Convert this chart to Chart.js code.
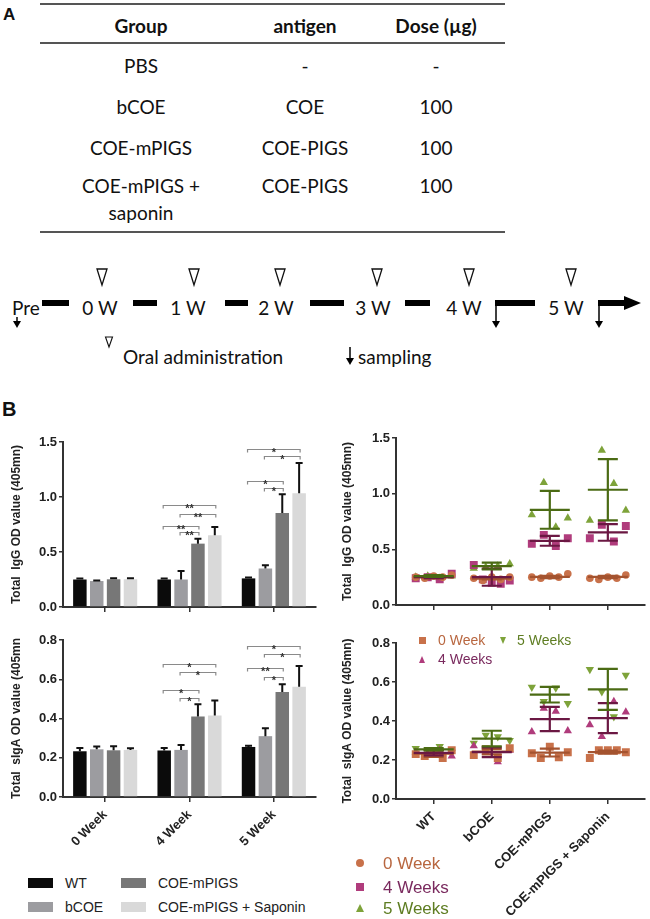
<!DOCTYPE html>
<html><head><meta charset="utf-8">
<script src="https://cdn.jsdelivr.net/npm/chart.js@4.4.1/dist/chart.umd.min.js"></script>
<style>
body{margin:0;background:#fff;}
#page{position:relative;width:650px;height:919px;overflow:hidden;background:#fff;font-family:Lato,'Open Sans',sans-serif;}
canvas{position:absolute;}
.tc{position:absolute;transform:translate(-50%,-50%);white-space:nowrap;font-size:19px;color:#111;line-height:1;}
.tl{position:absolute;transform:translateY(-50%);white-space:nowrap;line-height:1;}
.hl{position:absolute;height:1.5px;background:#555;}
.lab{position:absolute;font-family:'Liberation Sans',Arial,sans-serif;font-weight:bold;color:#111;}
</style></head>
<body><div id="page">
<div class="lab" style="left:3px;top:5px;font-size:17px;">A</div>
<div class="lab" style="left:2px;top:398px;font-size:20px;">B</div>
<div class="hl" style="left:40px;top:3px;width:465px;"></div>
<div class="hl" style="left:40px;top:42px;width:465px;"></div>
<div class="hl" style="left:40px;top:231px;width:465px;"></div>
<svg id="tl" style="position:absolute;left:0;top:0" width="650" height="919"></svg>
<canvas id="c1"></canvas>
<canvas id="c2"></canvas>
<canvas id="c3"></canvas>
<canvas id="c4"></canvas>
</div>
<script>
// ---------- Table (panel A) ----------
const tableHeader = ['Group', 'antigen', 'Dose (\u00b5g)'];
const tableRows = [
  ['PBS', '-', '-'],
  ['bCOE', 'COE', '100'],
  ['COE-mPIGS', 'COE-PIGS', '100'],
  ['COE-mPIGS +\nsaponin', 'COE-PIGS', '100']
];
// ---------- Timeline ----------
const timeLabels = ['Pre', '0 W', '1 W', '2 W', '3 W', '4 W', '5 W'];
const legendOral = 'Oral administration';
const legendSampling = 'sampling';

// ---------- Panel B data ----------
const weekLabels = ['0 Week', '4 Week', '5 Week'];
const groupLabels = ['WT', 'bCOE', 'COE-mPIGS', 'COE-mPIGS + Saponin'];

// Total IgG, mean per group over weeks (0, 4, 5)
const iggWT    = [0.250, 0.250, 0.260];
const iggBCOE  = [0.236, 0.250, 0.350];
const iggMPIGS = [0.252, 0.576, 0.855];
const iggSAP   = [0.252, 0.652, 1.035];
const iggErrWT    = [0.010, 0.008, 0.008];
const iggErrBCOE  = [0.006, 0.077, 0.030];
const iggErrMPIGS = [0.010, 0.044, 0.170];
const iggErrSAP   = [0.010, 0.075, 0.275];

// Total sIgA
const sigaWT    = [0.233, 0.237, 0.255];
const sigaBCOE  = [0.243, 0.240, 0.310];
const sigaMPIGS = [0.238, 0.410, 0.535];
const sigaSAP   = [0.240, 0.415, 0.562];
const sigaErrWT    = [0.017, 0.013, 0.006];
const sigaErrBCOE  = [0.014, 0.025, 0.040];
const sigaErrMPIGS = [0.020, 0.062, 0.040];
const sigaErrSAP   = [0.008, 0.077, 0.105];

// significance brackets: [week index, from group, to group, height, label]
const iggBrackets = [
  [1, 0, 3, 0.925, '**'], [1, 1, 3, 0.85, '**'], [1, 0, 2, 0.74, '**'], [1, 1, 2, 0.68, '**'],
  [2, 0, 3, 1.44, '*'], [2, 1, 3, 1.37, '*'], [2, 0, 2, 1.15, '*'], [2, 1, 2, 1.085, '*']
];
const sigaBrackets = [
  [1, 0, 3, 0.68, '*'], [1, 1, 3, 0.635, '*'], [1, 0, 2, 0.545, '*'], [1, 1, 2, 0.503, '*'],
  [2, 0, 3, 0.77, '*'], [2, 1, 3, 0.73, '*'], [2, 0, 2, 0.655, '**'], [2, 1, 2, 0.613, '*']
];

// Individual points (per group: WT, bCOE, COE-mPIGS, +Saponin)
const iggPts0 = [[0.25, 0.24, 0.26, 0.25, 0.27], [0.24, 0.22, 0.25, 0.23, 0.25], [0.25, 0.24, 0.26, 0.25, 0.28], [0.24, 0.23, 0.25, 0.24, 0.27]];
const iggPts4 = [[0.24, 0.25, 0.23, 0.28], [0.36, 0.23, 0.20, 0.19, 0.22], [0.55, 0.63, 0.53, 0.60], [0.60, 0.72, 0.57, 0.71]];
const iggPts5 = [[0.25, 0.26, 0.24, 0.26], [0.33, 0.34, 0.35, 0.37], [0.81, 1.10, 0.70, 0.78], [0.76, 1.39, 1.09, 0.85]];
const sigaPts0 = [[0.23, 0.22, 0.24, 0.21, 0.25], [0.225, 0.255, 0.21, 0.26], [0.235, 0.21, 0.268, 0.214, 0.24], [0.21, 0.25, 0.25, 0.25, 0.24]];
const sigaPts4 = [[0.24, 0.23, 0.25, 0.22], [0.272, 0.24, 0.19, 0.25], [0.345, 0.465, 0.45, 0.35], [0.38, 0.32, 0.50, 0.446]];
const sigaPts5 = [[0.26, 0.25, 0.27, 0.24], [0.287, 0.328, 0.32, 0.30], [0.573, 0.5, 0.57, 0.49], [0.665, 0.55, 0.422, 0.635]];

const barColors = ['#0b0b0b', '#9c9ca0', '#777777', '#d9d9d9'];
const weekColors = ['#c8714a', '#b03c7c', '#7ea33a'];
const weekLineColors = ['#a4532f', '#6b1843', '#4b6b14'];
const weekTextColors = ['#b8663f', '#7a2a5e', '#5e7d22'];
const scatterLegendLabels = ['0 Week', '4 Weeks', '5 Weeks'];

const page = document.getElementById('page');
function addDiv(cls, txt, style) {
  const d = document.createElement('div'); d.className = cls; d.textContent = txt;
  Object.assign(d.style, style); page.appendChild(d); return d;
}
// Table
const colX = [141, 305, 436];
tableHeader.forEach((h, i) => addDiv('tc', h, {left: colX[i] + 'px', top: '25px', fontWeight: 'bold'}));
const rowY = [65, 106, 147, 185];
tableRows.forEach((r, ri) => r.forEach((c, ci) => {
  const parts = c.split('\n');
  parts.forEach((p, k) => addDiv('tc', p, {left: colX[ci] + 'px', top: (rowY[ri] + k * 27) + 'px'}));
}));

// Timeline (SVG)
const svg = document.getElementById('tl');
const NS = 'http://www.w3.org/2000/svg';
function sv(tag, attrs, txt) { const e = document.createElementNS(NS, tag); for (const k in attrs) e.setAttribute(k, attrs[k]); if (txt) e.textContent = txt; svg.appendChild(e); return e; }
const labX = [26, 100, 188, 276, 373, 464, 566];
timeLabels.forEach((t, i) => sv('text', {x: labX[i], y: 315, 'text-anchor': 'middle', 'font-family': 'Lato', 'font-size': 19, fill: '#111'}, t));
const triX = [102, 194, 280, 377, 469, 571];
triX.forEach(x => sv('path', {d: `M${x - 5} 269 L${x + 5} 269 L${x} 285 Z`, fill: '#fff', stroke: '#111', 'stroke-width': 1.3}));
[[42, 69], [133, 157], [225, 248], [310, 344], [405, 430], [495, 535], [598, 626]].forEach(([a, b]) => sv('rect', {x: a, y: 300, width: b - a, height: 6, fill: '#000'}));
sv('path', {d: 'M624 296 L641 303 L624 310 Z', fill: '#000'});
function downArrow(x, y1, y2) {
  sv('line', {x1: x, y1: y1, x2: x, y2: y2 - 5, stroke: '#000', 'stroke-width': 1.5});
  sv('path', {d: `M${x - 4} ${y2 - 7} L${x + 4} ${y2 - 7} L${x} ${y2} Z`, fill: '#000'});
}
downArrow(17, 317, 328); downArrow(496, 303, 328); downArrow(599, 303, 328);
sv('path', {d: 'M105.5 337 L112.5 337 L109 347 Z', fill: '#fff', stroke: '#111', 'stroke-width': 1.1});
sv('text', {x: 123, y: 364, 'font-family': 'Lato', 'font-size': 19, fill: '#111'}, legendOral);
downArrow(350, 347, 365);
sv('text', {x: 358, y: 364, 'font-family': 'Lato', 'font-size': 19, fill: '#111'}, legendSampling);

// Bar legend (bottom left)
const legPos = [[28, 883], [28, 907], [121, 883], [121, 907]];
groupLabels.forEach((g, i) => {
  const [x, y] = legPos[i];
  const s = document.createElement('div');
  Object.assign(s.style, {position: 'absolute', left: x + 'px', top: (y - 5) + 'px', width: '25px', height: '10px', background: barColors[i]});
  page.appendChild(s);
  addDiv('tl', g, {left: (x + 37) + 'px', top: y + 'px', fontFamily: 'Liberation Sans, Arial, sans-serif', fontSize: '14px', color: '#222'});
});
// Scatter legend (bottom middle)
function marker(kind, cx, cy, size, color) {
  const d = document.createElement('div'); d.style.position = 'absolute';
  if (kind === 'circle' || kind === 'square') {
    Object.assign(d.style, {left: (cx - size / 2) + 'px', top: (cy - size / 2) + 'px', width: size + 'px', height: size + 'px', background: color, borderRadius: kind === 'circle' ? '50%' : '0'});
  } else {
    const h = size;
    Object.assign(d.style, {left: (cx - size / 2) + 'px', top: (cy - h / 2) + 'px', width: 0, height: 0,
      borderLeft: (size / 2) + 'px solid transparent', borderRight: (size / 2) + 'px solid transparent'});
    if (kind === 'up') d.style.borderBottom = h + 'px solid ' + color; else d.style.borderTop = h + 'px solid ' + color;
  }
  page.appendChild(d);
}
const legY = [863, 887, 908];
const legKinds = ['circle', 'square', 'up'];
scatterLegendLabels.forEach((l, i) => {
  marker(legKinds[i], 360, legY[i], 8, weekColors[i]);
  addDiv('tl', l, {left: '383px', top: legY[i] + 'px', fontFamily: 'Liberation Sans, Arial, sans-serif', fontSize: '17px', color: weekTextColors[i]});
});
// inner legend of sIgA scatter
marker('square', 422, 640, 7, weekColors[0]);
addDiv('tl', '0 Week', {left: '438px', top: '640px', fontFamily: 'Liberation Sans, Arial, sans-serif', fontSize: '14px', color: weekTextColors[0]});
marker('down', 503, 640, 7, weekColors[2]);
addDiv('tl', '5 Weeks', {left: '517px', top: '640px', fontFamily: 'Liberation Sans, Arial, sans-serif', fontSize: '14px', color: weekTextColors[2]});
marker('up', 422, 659, 7, weekColors[1]);
addDiv('tl', '4 Weeks', {left: '438px', top: '659px', fontFamily: 'Liberation Sans, Arial, sans-serif', fontSize: '14px', color: weekTextColors[1]});

// ---------- Charts ----------
Chart.defaults.font.family = "'Liberation Sans', Arial, sans-serif";
Chart.defaults.color = '#222';
const AX = '#333';

function place(id, box, plot) {
  const c = document.getElementById(id);
  c.width = box.w; c.height = box.h;
  c.style.left = box.x + 'px'; c.style.top = box.y + 'px';
  return {
    ctx: c,
    padding: {left: 0, top: plot.t - box.y, right: box.x + box.w - plot.r, bottom: 0},
    yW: plot.l - box.x, xH: box.y + box.h - plot.b
  };
}

const barExtras = {
  id: 'barExtras',
  afterDatasetsDraw(chart, args, opts) {
    const ctx = chart.ctx, y = chart.scales.y;
    ctx.save();
    chart.data.datasets.forEach((ds, i) => {
      const meta = chart.getDatasetMeta(i);
      meta.data.forEach((el, j) => {
        const yt = y.getPixelForValue(ds.data[j] + opts.errs[i][j]);
        ctx.strokeStyle = '#111'; ctx.lineWidth = 2;
        ctx.beginPath(); ctx.moveTo(el.x, el.y); ctx.lineTo(el.x, yt);
        ctx.moveTo(el.x - 3.5, yt); ctx.lineTo(el.x + 3.5, yt); ctx.stroke();
      });
    });
    opts.brackets.forEach(([w, a, b, val, lab]) => {
      const xa = chart.getDatasetMeta(a).data[w].x - 1, xb = chart.getDatasetMeta(b).data[w].x + 1;
      const yy = Math.round(y.getPixelForValue(val)) + 0.5;
      ctx.strokeStyle = '#8a8a8a'; ctx.lineWidth = 1.2;
      ctx.beginPath(); ctx.moveTo(xa, yy + 3); ctx.lineTo(xa, yy); ctx.lineTo(xb, yy); ctx.lineTo(xb, yy + 3); ctx.stroke();
      ctx.fillStyle = '#333'; ctx.font = "bold 11px 'Liberation Sans', Arial"; ctx.textAlign = 'center'; ctx.textBaseline = 'alphabetic';
      ctx.fillText(lab, (xa + xb) / 2, yy + 6);
    });
    ctx.restore();
  }
};

function barChart(id, box, plot, series, errs, brackets, yMax, yStep, title, showX) {
  const p = place(id, box, plot);
  return new Chart(p.ctx, {
    type: 'bar',
    data: {
      labels: weekLabels,
      datasets: series.map((d, i) => ({label: groupLabels[i], data: d, backgroundColor: barColors[i], borderWidth: 0,
        barPercentage: 0.8, categoryPercentage: 0.8}))
    },
    options: {
      responsive: false, animation: false, devicePixelRatio: 1,
      layout: {padding: p.padding},
      plugins: {legend: {display: false}, tooltip: {enabled: false}, barExtras: {errs, brackets}},
      scales: {
        x: {
          grid: {display: true, drawOnChartArea: false, offset: false, tickLength: 5, color: AX, lineWidth: 1.5},
          border: {display: true, color: AX, width: 2},
          ticks: {display: showX, autoSkip: false, minRotation: 45, maxRotation: 45, padding: 5,
            font: {size: 13, weight: 'bold'}, color: '#222'},
          afterFit: s => { s.height = p.xH; }
        },
        y: {
          min: 0, max: yMax,
          grid: {display: true, drawOnChartArea: false, tickLength: 4, color: AX, lineWidth: 1.5},
          border: {display: true, color: AX, width: 2},
          ticks: {stepSize: yStep, padding: 2, font: {size: 13, weight: 'bold'}, color: '#222', callback: v => v.toFixed(1)},
          title: {display: true, text: title, font: {size: 12, weight: 'bold'}, color: '#222', padding: {top: 9, bottom: 0}},
          afterFit: s => { s.width = p.yW; }
        }
      }
    },
    plugins: [barExtras]
  });
}

const scatterExtras = {
  id: 'scatterExtras',
  afterDatasetsDraw(chart, args, opts) {
    const ctx = chart.ctx, x = chart.scales.x, y = chart.scales.y;
    ctx.save();
    ctx.lineWidth = 2.2;
    opts.means.forEach((wk, w) => {
      ctx.strokeStyle = weekLineColors[w];
      wk.forEach((m, g) => {
        const sd = opts.sds[w][g];
        const cx = x.getPixelForValue(g), ym = y.getPixelForValue(m);
        const yh = y.getPixelForValue(m + sd), yl = y.getPixelForValue(m - sd);
        ctx.beginPath();
        ctx.moveTo(cx - 20, ym); ctx.lineTo(cx + 20, ym);
        ctx.moveTo(cx, yh); ctx.lineTo(cx, yl);
        ctx.moveTo(cx - 10, yh); ctx.lineTo(cx + 10, yh);
        ctx.moveTo(cx - 10, yl); ctx.lineTo(cx + 10, yl);
        ctx.stroke();
      });
    });
    ctx.restore();
  }
};

function spread(ptsByGroup) {
  const out = [];
  ptsByGroup.forEach((vals, g) => {
    const n = vals.length;
    vals.forEach((v, i) => out.push({x: g + (n > 1 ? (i / (n - 1) - 0.5) * 0.62 : 0), y: v}));
  });
  return out;
}

function scatterChart(id, box, plot, ptSets, styles, means, sds, yMax, yStep, title, showX) {
  const p = place(id, box, plot);
  return new Chart(p.ctx, {
    type: 'scatter',
    data: {
      datasets: ptSets.map((pts, w) => ({
        label: scatterLegendLabels[w], data: spread(pts),
        pointStyle: styles[w][0], rotation: styles[w][1], pointRadius: styles[w][2],
        backgroundColor: weekColors[w], borderColor: weekColors[w], borderWidth: 0
      }))
    },
    options: {
      responsive: false, animation: false, devicePixelRatio: 1,
      layout: {padding: p.padding},
      plugins: {legend: {display: false}, tooltip: {enabled: false}, scatterExtras: {means, sds}},
      scales: {
        x: {
          type: 'linear', min: -0.65, max: 3.63,
          afterBuildTicks: s => { s.ticks = groupLabels.map((_, i) => ({value: i})); },
          grid: {display: true, drawOnChartArea: false, tickLength: 5, color: AX, lineWidth: 1.5},
          border: {display: true, color: AX, width: 2},
          ticks: {display: showX, autoSkip: false, minRotation: 45, maxRotation: 45, padding: 5,
            font: {size: 13, weight: 'bold'}, color: '#222', callback: v => groupLabels[v]},
          afterFit: s => { s.height = p.xH; }
        },
        y: {
          min: 0, max: yMax,
          grid: {display: true, drawOnChartArea: false, tickLength: 4, color: AX, lineWidth: 1.5},
          border: {display: true, color: AX, width: 2},
          ticks: {stepSize: yStep, padding: 2, font: {size: 13, weight: 'bold'}, color: '#222', callback: v => v.toFixed(1)},
          title: {display: true, text: title, font: {size: 12, weight: 'bold'}, color: '#222', padding: {top: 10, bottom: 0}},
          afterFit: s => { s.width = p.yW; }
        }
      }
    },
    plugins: [scatterExtras]
  });
}

function byWeek(arrs) { return [0, 1, 2].map(w => arrs.map(a => a[w])); }

barChart('c1', {x: 0, y: 432, w: 322, h: 185}, {l: 63, t: 442, r: 316, b: 607},
  [iggWT, iggBCOE, iggMPIGS, iggSAP], [iggErrWT, iggErrBCOE, iggErrMPIGS, iggErrSAP],
  iggBrackets, 1.5, 0.5, 'Total  IgG OD value (405mn)', false);
barChart('c2', {x: 0, y: 628, w: 322, h: 222}, {l: 63, t: 640, r: 316, b: 797},
  [sigaWT, sigaBCOE, sigaMPIGS, sigaSAP], [sigaErrWT, sigaErrBCOE, sigaErrMPIGS, sigaErrSAP],
  sigaBrackets, 0.8, 0.2, 'Total  sIgA OD value (405mn', true);

scatterChart('c3', {x: 330, y: 428, w: 320, h: 187}, {l: 396, t: 438, r: 645, b: 605},
  [iggPts0, iggPts4, iggPts5], [['circle', 0, 3.8], ['rect', 0, 5.6], ['triangle', 0, 4.8]],
  byWeek([iggWT, iggBCOE, iggMPIGS, iggSAP]), byWeek([iggErrWT, iggErrBCOE, iggErrMPIGS, iggErrSAP]),
  1.5, 0.5, 'Total  IgG OD value (405mn)', false);
scatterChart('c4', {x: 330, y: 630, w: 320, h: 289}, {l: 396, t: 643, r: 645, b: 799},
  [sigaPts0, sigaPts4, sigaPts5], [['rect', 0, 5.6], ['triangle', 0, 4.8], ['triangle', 180, 4.8]],
  byWeek([sigaWT, sigaBCOE, sigaMPIGS, sigaSAP]), byWeek([sigaErrWT, sigaErrBCOE, sigaErrMPIGS, sigaErrSAP]),
  0.8, 0.2, 'Total  sIgA OD value (405mn)', true);
</script>
</body></html>
